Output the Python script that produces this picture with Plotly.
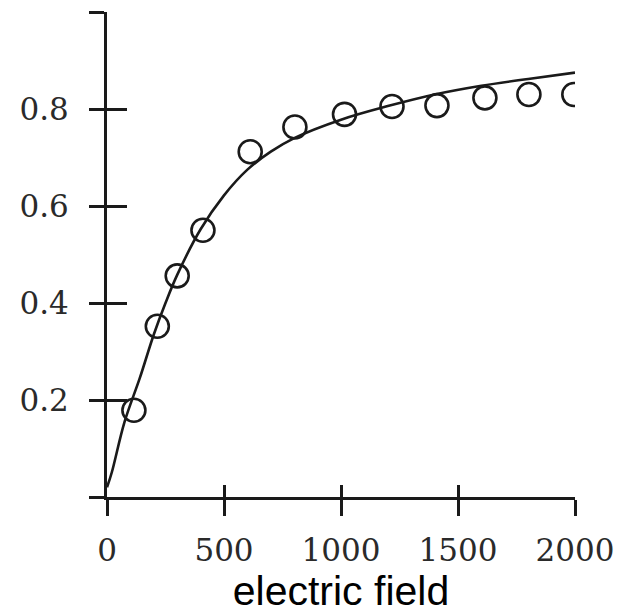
import plotly.graph_objects as go

# measured points (open circles)
field_pts = [115, 215, 300, 410, 612, 803, 1015, 1218, 1410, 1615, 1803, 1995]
frac_pts = [0.179, 0.352, 0.456, 0.550, 0.712, 0.763, 0.789, 0.805, 0.807, 0.823, 0.830, 0.830]

# fitted curve
field_fit = [0, 20, 75, 140, 200, 250, 300, 400, 500, 600, 700, 800, 1000, 1200, 1400, 1600, 1800, 2000]
frac_fit = [0.02, 0.05, 0.155, 0.245, 0.335, 0.40, 0.458, 0.552, 0.622, 0.675, 0.712, 0.740,
            0.778, 0.806, 0.83, 0.848, 0.862, 0.875]

x_ticks = [0, 500, 1000, 1500, 2000]
x_ticktext = ["0", "500", "1000", "1500", "2000"]
y_ticks = [0, 0.2, 0.4, 0.6, 0.8, 1]
y_ticktext = ["", "0.2", "0.4", "0.6", "0.8", "1"]

ink = "#1a1a1a"
tickfont = dict(family="DejaVu Serif", size=31, color="#2a2a2a")

fig = go.Figure()
fig.add_trace(go.Scatter(
    x=field_pts, y=frac_pts, mode="markers",
    marker=dict(symbol="circle-open", size=23, color=ink, line=dict(width=2.6)),
    cliponaxis=True, showlegend=False, hoverinfo="skip"))
fig.add_trace(go.Scatter(
    x=field_fit, y=frac_fit, mode="lines", line=dict(color=ink, width=2.6, shape="spline"),
    xaxis="x2", yaxis="y2", showlegend=False, hoverinfo="skip"))

common = dict(showgrid=False, zeroline=False, tickwidth=3, tickcolor=ink)
fig.update_layout(
    width=630, height=615,
    margin=dict(l=107, r=55, t=12, b=116),
    paper_bgcolor="white", plot_bgcolor="white",
    xaxis=dict(range=[0, 2000], tickmode="array", tickvals=x_ticks, ticktext=x_ticktext,
               ticks="outside", ticklen=16, showline=True, linecolor=ink, linewidth=3,
               tickfont=tickfont, ticklabelstandoff=8,
               title=dict(text="electric field", font=dict(family="Liberation Sans", size=41, color="black"),
                          standoff=6),
               **common),
    yaxis=dict(range=[0, 1], tickmode="array", tickvals=y_ticks, ticktext=y_ticktext,
               ticks="outside", ticklen=15, showline=True, linecolor=ink, linewidth=3,
               tickfont=tickfont, ticklabelstandoff=14, **common),
    xaxis2=dict(overlaying="x", matches="x", anchor="y2", tickmode="array", tickvals=x_ticks,
                ticks="inside", ticklen=12, showticklabels=False, showline=False, **common),
    yaxis2=dict(overlaying="y", matches="y", anchor="x2", tickmode="array", tickvals=y_ticks,
                ticks="inside", ticklen=20, showticklabels=False, showline=False, **common),
)
# white mask past the right end of the axis, so the last circle is cut like in the scan
fig.add_shape(type="rect", xref="paper", yref="paper", x0=1.004, x1=1.2, y0=0.035, y1=1.05,
              fillcolor="white", line=dict(width=0), layer="above")

fig.write_html("out.html")
